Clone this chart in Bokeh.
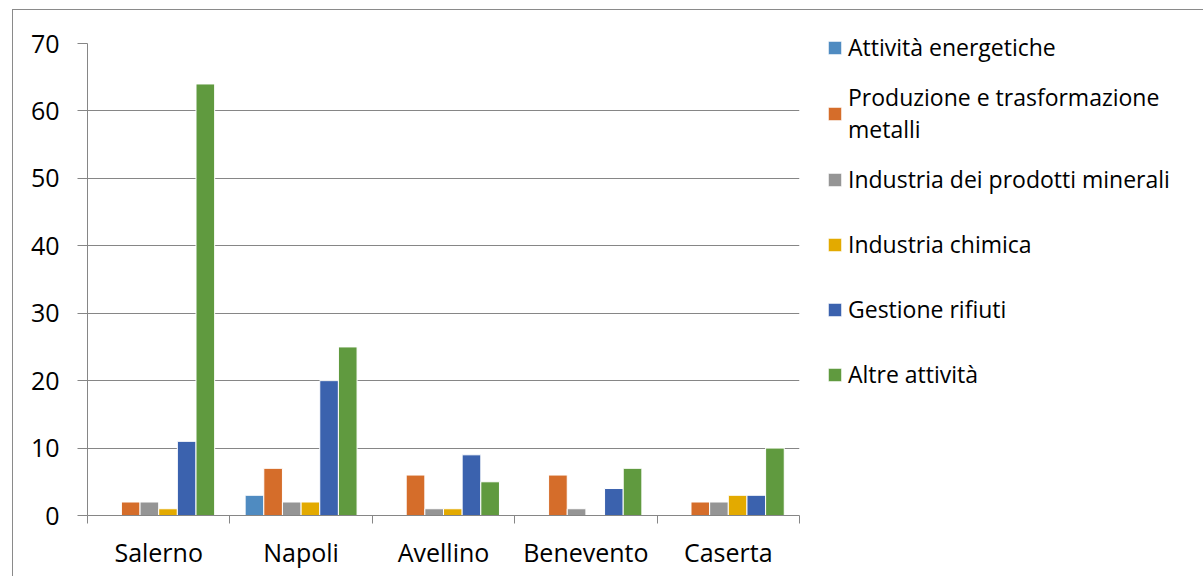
from bokeh.plotting import figure
from bokeh.models import Range1d, FixedTicker, Legend, LegendItem, ColumnDataSource
from bokeh.transform import dodge
from bokeh.embed import file_html
from bokeh.resources import INLINE

provinces = ["Salerno", "Napoli", "Avellino", "Benevento", "Caserta"]
series_names = [
    "Attività energetiche",
    "Produzione e trasformazione\nmetalli",
    "Industria dei prodotti minerali",
    "Industria chimica",
    "Gestione rifiuti",
    "Altre attività",
]
attivita_energetiche = [0, 3, 0, 0, 0]
produzione_metalli = [2, 7, 6, 6, 2]
industria_minerali = [2, 2, 1, 1, 2]
industria_chimica = [1, 2, 1, 0, 3]
gestione_rifiuti = [11, 20, 9, 4, 3]
altre_attivita = [64, 25, 5, 7, 10]
y_ticks = [0, 10, 20, 30, 40, 50, 60, 70]

colors = ["#4F8BC1", "#D56D2A", "#959595", "#E3AA00", "#3B62AE", "#609A3F"]
series_values = [attivita_energetiche, produzione_metalli, industria_minerali,
                 industria_chimica, gestione_rifiuti, altre_attivita]

FONT = "Open Sans"
GRAY = "#868686"

x_centers = [i + 0.5 for i in range(len(provinces))]
data = {"x": x_centers}
for k, vals in enumerate(series_values):
    data[f"s{k}"] = vals
src = ColumnDataSource(data)

p = figure(frame_width=712, frame_height=472, output_backend="svg", toolbar_location=None,
           x_range=Range1d(0, len(provinces)), y_range=Range1d(0, 70),
           min_border_left=74, min_border_right=0, min_border_top=33, min_border_bottom=61,
           margin=(9, 0, 0, 12),
           styles={"border-top": "1px solid #8a8a8a", "border-left": "1px solid #8a8a8a"})
p.outline_line_color = None
p.background_fill_color = "white"
p.border_fill_color = "white"

bw = 0.131
renderers = []
for k in range(6):
    off = (k - 2.5) * bw
    r = p.vbar(x=dodge("x", off), top=f"s{k}", width=bw, source=src,
               fill_color=colors[k], line_color="white", line_width=1)
    renderers.append(r)

# axes
p.xaxis.ticker = FixedTicker(ticks=x_centers, minor_ticks=list(range(len(provinces) + 1)))
p.xaxis.major_label_overrides = {x: name for x, name in zip(x_centers, provinces)}
p.xaxis.major_tick_out = 0
p.xaxis.major_tick_in = 0
p.xaxis.minor_tick_out = 8
p.xaxis.minor_tick_in = 0
p.xaxis.minor_tick_line_color = GRAY
p.xaxis.axis_line_color = GRAY
p.xaxis.major_label_text_font = FONT
p.xaxis.major_label_text_font_size = "25px"
p.xaxis.major_label_text_color = "black"
p.xaxis.major_label_standoff = 11

p.yaxis.ticker = FixedTicker(ticks=y_ticks)
p.yaxis.major_tick_out = 10
p.yaxis.major_tick_in = 0
p.yaxis.major_tick_line_color = GRAY
p.yaxis.minor_tick_line_color = None
p.yaxis.axis_line_color = GRAY
p.yaxis.major_label_text_font = FONT
p.yaxis.major_label_text_font_size = "25px"
p.yaxis.major_label_text_color = "black"
p.yaxis.major_label_standoff = 18

p.xgrid.visible = False
p.ygrid.ticker = FixedTicker(ticks=y_ticks)
p.ygrid.grid_line_color = GRAY
p.ygrid.grid_line_width = 1

items = [LegendItem(label=series_names[k], renderers=[renderers[k]]) for k in range(6)]
leg = Legend(items=items, location=(27, 110), orientation="vertical",
             glyph_width=17, glyph_height=17, label_height=62, spacing=3,
             padding=0, margin=27, border_line_color=None, background_fill_alpha=0,
             label_standoff=5, label_text_font=FONT, label_text_font_size="23px",
             label_text_color="black")
p.add_layout(leg, "right")

open("out.html", "w").write(file_html(p, INLINE))
